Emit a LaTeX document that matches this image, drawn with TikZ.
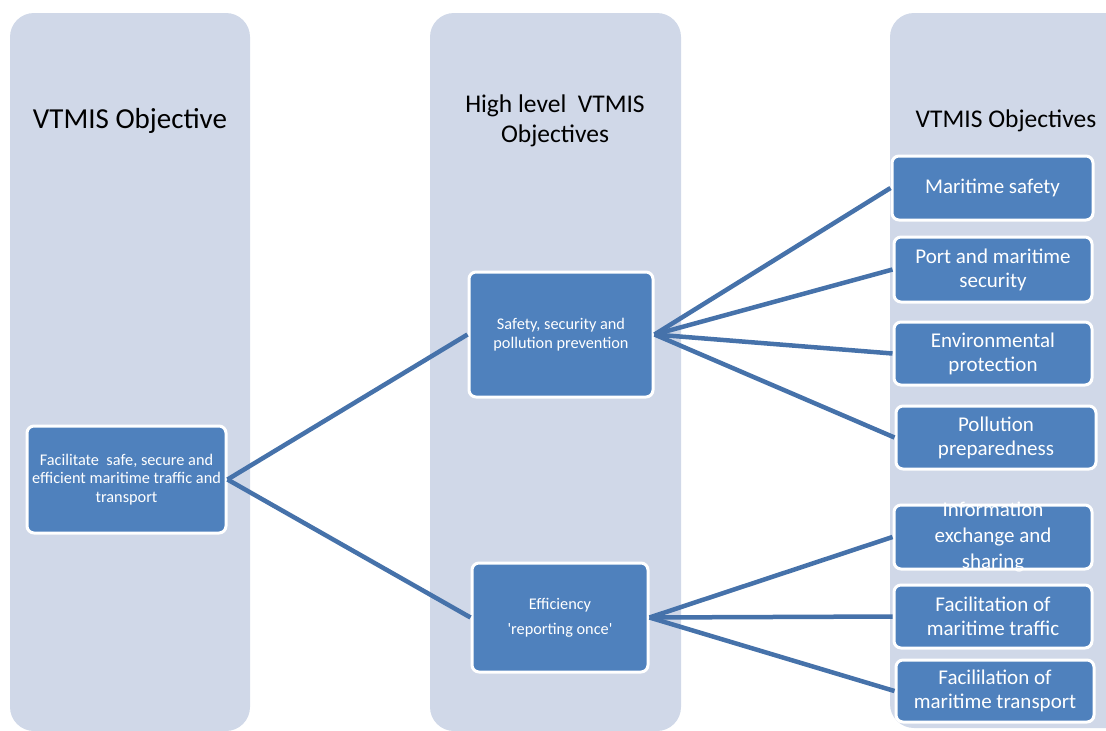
\documentclass[tikz,border=0pt]{standalone}
\usepackage{fontspec}
\setmainfont{Carlito}
\definecolor{colbg}{RGB}{208,216,232}
\definecolor{boxblue}{RGB}{79,129,189}
\definecolor{linkblue}{RGB}{70,114,170}
\tikzset{
  column/.style={fill=colbg, draw=none, rounded corners=24pt},
  bluebox/.style={rectangle, rounded corners=7pt, fill=boxblue, draw=white, line width=3pt, text=white, align=center, inner sep=0pt},
  smallbox/.style={bluebox, font=\fontsize{16.3}{18.5}\selectfont},
  objbox/.style={bluebox, font=\fontsize{21}{24}\selectfont, minimum width=200pt, minimum height=64pt},
  title/.style={align=center, text=black},
  link/.style={draw=linkblue, line width=4.5pt}
}
\begin{document}
\begin{tikzpicture}[x=1pt,y=-1pt]
\useasboundingbox (0,0) rectangle (1106,731);
% columns
\fill[column] (10,13) rectangle (250,731);
\fill[column] (430,13) rectangle (681,731);
\begin{scope}
\clip (0,0) rectangle (1106,731);
\fill[column] (890,13) rectangle (1140,728);
\end{scope}
% titles
\node[title, font=\fontsize{29}{32}\selectfont] (t1) at (130,121) {VTMIS Objective};
\node[title, font=\fontsize{25.5}{30}\selectfont] (t2) at (555,121) {High level\ \ VTMIS\\Objectives};
\node[title, font=\fontsize{25.5}{30}\selectfont] (t3) at (1006,121) {VTMIS Objectives};
% boxes
\node[smallbox, minimum width=199pt, minimum height=107pt] (root) at (126.5,479.5)
  {Facilitate\ \ safe, secure and\\efficient maritime traffic and\\transport};
\node[smallbox, minimum width=184pt, minimum height=125pt] (safe) at (561,334.5)
  {Safety, security and\\pollution prevention};
\node[smallbox, minimum width=176pt, minimum height=109pt, font=\fontsize{16.3}{25}\selectfont] (eff) at (560,617.5)
  {Efficiency\\\textquotesingle reporting once\textquotesingle};
\node[objbox, minimum width=201pt] (o1) at (992.5,188) {Maritime safety};
\node[objbox, minimum width=198pt, minimum height=65pt] (o2) at (993,269.5) {Port and maritime\\security};
\node[objbox, minimum width=198pt, minimum height=63pt] (o3) at (993,353.5) {Environmental\\protection};
\node[objbox, minimum width=200pt, minimum height=63pt] (o4) at (996,437.5) {Pollution\\preparedness};
\node[objbox, minimum width=198pt, minimum height=64pt] (o5) at (993,537) {};
\begin{scope}
\clip[rounded corners=5pt] ([shift={(3pt,-3pt)}]o5.south west) rectangle ([shift={(-3pt,3pt)}]o5.north east);
\node[title, text=white, font=\fontsize{21}{26}\selectfont] (o5t) at (993,537) {Information\\exchange and\\sharing};
\end{scope}
\node[objbox, minimum width=198pt, minimum height=63pt] (o6) at (993,616.5) {Facilitation of\\maritime traffic};
\node[objbox, minimum width=198pt, minimum height=62pt] (o7) at (995,691) {Facililation of\\maritime transport};
% links
\draw[link] (root.east) -- (safe.west);
\draw[link] (root.east) -- (eff.west);
\draw[link] (safe.east) -- (o1.west);
\draw[link] (safe.east) -- (o2.west);
\draw[link] (safe.east) -- (o3.west);
\draw[link] (safe.east) -- (o4.west);
\draw[link] (eff.east) -- (o5.west);
\draw[link] (eff.east) -- (o6.west);
\draw[link] (eff.east) -- (o7.west);
\end{tikzpicture}
\end{document}
